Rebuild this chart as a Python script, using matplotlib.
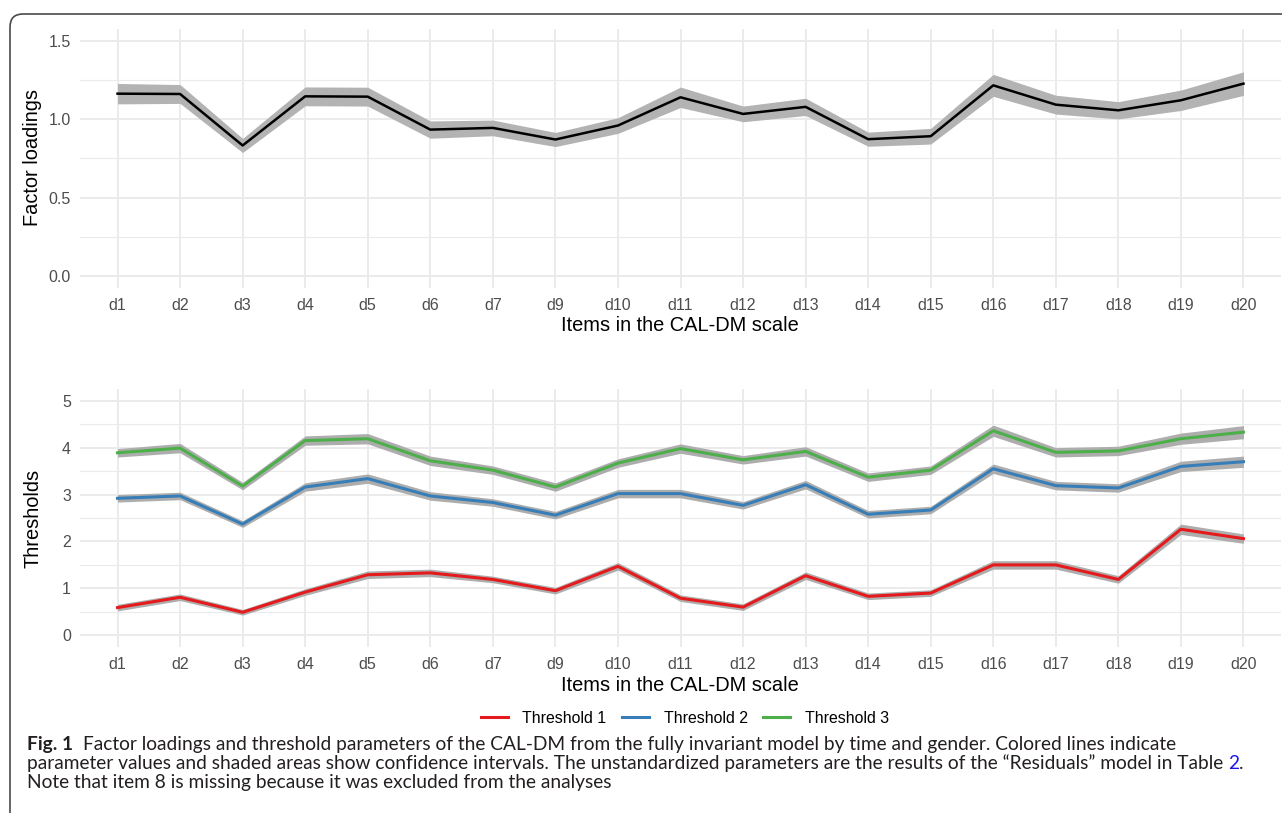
import matplotlib
matplotlib.use("Agg")
import matplotlib.pyplot as plt
from matplotlib.lines import Line2D
from matplotlib.patches import FancyBboxPatch

items = ["d1", "d2", "d3", "d4", "d5", "d6", "d7", "d9", "d10", "d11",
         "d12", "d13", "d14", "d15", "d16", "d17", "d18", "d19", "d20"]

# factor loadings with half-width of the confidence band
loadings = [1.163, 1.161, 0.833, 1.146, 1.144, 0.934, 0.945, 0.871, 0.960, 1.140,
            1.034, 1.079, 0.873, 0.892, 1.216, 1.093, 1.057, 1.121, 1.227]
loadings_ci = [0.065, 0.060, 0.045, 0.060, 0.060, 0.055, 0.050, 0.045, 0.050, 0.065,
               0.050, 0.055, 0.045, 0.050, 0.070, 0.060, 0.055, 0.065, 0.075]

# thresholds
thr1 = [0.59, 0.81, 0.49, 0.92, 1.29, 1.33, 1.19, 0.95, 1.47, 0.79,
        0.60, 1.27, 0.83, 0.90, 1.50, 1.50, 1.19, 2.26, 2.06]
thr2 = [2.92, 2.97, 2.37, 3.16, 3.34, 2.97, 2.83, 2.56, 3.02, 3.02,
        2.77, 3.21, 2.58, 2.67, 3.55, 3.19, 3.14, 3.60, 3.70]
thr3 = [3.89, 3.99, 3.18, 4.15, 4.19, 3.72, 3.52, 3.16, 3.67, 3.98,
        3.74, 3.92, 3.37, 3.52, 4.36, 3.90, 3.93, 4.19, 4.33]
thr1_ci = [0.07, 0.07, 0.06, 0.07, 0.08, 0.08, 0.07, 0.07, 0.08, 0.07,
           0.07, 0.08, 0.07, 0.07, 0.09, 0.09, 0.08, 0.11, 0.10]
thr2_ci = [0.08, 0.08, 0.07, 0.09, 0.10, 0.09, 0.08, 0.08, 0.09, 0.09,
           0.08, 0.09, 0.08, 0.08, 0.10, 0.09, 0.09, 0.11, 0.12]
thr3_ci = [0.09, 0.10, 0.08, 0.10, 0.11, 0.10, 0.09, 0.09, 0.09, 0.10,
           0.09, 0.10, 0.09, 0.09, 0.12, 0.10, 0.10, 0.12, 0.14]

thr_labels = ["Threshold 1", "Threshold 2", "Threshold 3"]
thr_colors = ["#E41A1C", "#377EB8", "#4DAF4A"]

W, H = 1282, 813
plt.rcParams["font.family"] = ["Liberation Sans", "DejaVu Sans"]
fig = plt.figure(figsize=(W / 100, H / 100), dpi=100)
fig.patch.set_facecolor("white")


def px_axes(left, top, right, bottom):
    return fig.add_axes([left / W, 1 - bottom / H, (right - left) / W, (bottom - top) / H])


def style(ax, ymin, ymax, major, minor):
    x = list(range(len(items)))
    ax.set_xlim(-0.6, len(items) - 0.4)
    pad = (ymax - ymin) * 0.05
    ax.set_ylim(ymin - pad, ymax + pad)
    ax.set_xticks(x)
    ax.set_xticklabels(items)
    ax.set_yticks(major)
    ax.set_yticks(minor, minor=True)
    ax.grid(which="major", color="#EBEBEB", lw=1.4)
    ax.grid(which="minor", axis="y", color="#EBEBEB", lw=0.8)
    ax.set_axisbelow(True)
    for s in ax.spines.values():
        s.set_visible(False)
    ax.tick_params(which="both", length=0)
    ax.tick_params(axis="y", pad=6.5, labelsize=11.5, labelcolor="#4D4D4D")
    ax.tick_params(axis="x", pad=7.5, labelsize=11.5, labelcolor="#4D4D4D")
    return x


# top panel: factor loadings
ax1 = px_axes(80, 29, 1281, 288)
x = style(ax1, 0, 1.5, [0.0, 0.5, 1.0, 1.5], [0.25, 0.75, 1.25])
ax1.set_yticklabels(["0.0", "0.5", "1.0", "1.5"])
lo = [v - c for v, c in zip(loadings, loadings_ci)]
hi = [v + c for v, c in zip(loadings, loadings_ci)]
ax1.fill_between(x, lo, hi, color="#B3B3B3", lw=0)
ax1.plot(x, loadings, color="black", lw=1.8)

# bottom panel: thresholds
ax2 = px_axes(80, 389, 1281, 647)
x = style(ax2, 0, 5, [0, 1, 2, 3, 4, 5], [0.5, 1.5, 2.5, 3.5, 4.5])
handles = []
for vals, ci, col, lab in zip([thr1, thr2, thr3], [thr1_ci, thr2_ci, thr3_ci],
                              thr_colors, thr_labels):
    lo = [v - c for v, c in zip(vals, ci)]
    hi = [v + c for v, c in zip(vals, ci)]
    ax2.fill_between(x, lo, hi, color="#ADADAD", lw=0)
    ax2.plot(x, vals, color=col, lw=2.2)
    handles.append(Line2D([], [], color=col, lw=2.2, label=lab))

# axis titles
for yc, txt in [(158, "Factor loadings"), (518, "Thresholds")]:
    fig.text(33 / W, 1 - yc / H, txt, rotation=90, ha="center", va="center",
             fontsize=14.4, color="black")
for yc in [325, 685]:
    fig.text(680 / W, 1 - yc / H, "Items in the CAL-DM scale", ha="center",
             va="center", fontsize=14.4, color="black")

fig.legend(handles=handles, loc="center", bbox_to_anchor=(685 / W, 1 - 718 / H),
           ncol=3, frameon=False, fontsize=11.4, handlelength=1.7,
           handletextpad=0.9, columnspacing=1.0)

# rounded frame around the figure and caption
frame = FancyBboxPatch((10 / 100, -0.3), 14.0, (H - 14) / 100 + 0.3,
                       boxstyle="round,pad=0,rounding_size=0.13",
                       transform=fig.dpi_scale_trans, fill=False,
                       ec="#4A4A4A", lw=1.2, clip_on=False)
fig.add_artist(frame)

# caption
cap_font = "Lato"
cap_color = "#231F20"
line2 = ("parameter values and shaded areas show confidence intervals. The unstandardized "
         "parameters are the results of the \u201cResiduals\u201d model in Table ")
renderer = fig.canvas.get_renderer()
probe = fig.text(0, 0, line2 + "2.", family=cap_font, fontsize=13)
wpx = probe.get_window_extent(renderer).width
probe.remove()
cap_size = 13 * 1220 / wpx


def put(xp, yp, s, **kw):
    t = fig.text(xp / W, 1 - yp / H, s, family=cap_font, fontsize=cap_size,
                 color=kw.pop("color", cap_color), va="baseline", ha="left", **kw)
    return t.get_window_extent(renderer).x1


xe = put(27, 750, "Fig. 1", weight="bold")
put(xe + 10, 750, "Factor loadings and threshold parameters of the CAL-DM from the fully "
    "invariant model by time and gender. Colored lines indicate")
xe = put(27, 769, line2)
xe = put(xe, 769, "2", color="#1A1AE6")
put(xe, 769, ".")
put(27, 788, "Note that item 8 is missing because it was excluded from the analyses")

fig.savefig("out.png", dpi=100)
